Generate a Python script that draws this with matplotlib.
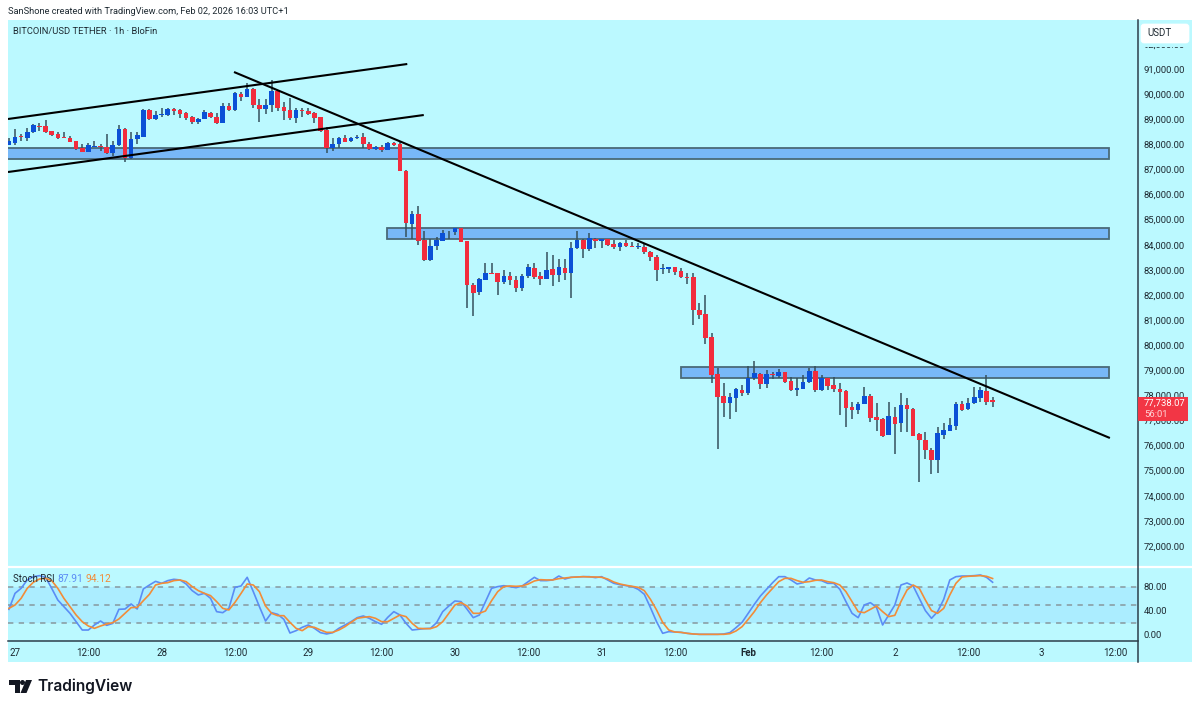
import matplotlib
matplotlib.use("Agg")
import matplotlib.pyplot as plt
from matplotlib.lines import Line2D
from matplotlib.patches import Rectangle, Polygon, FancyBboxPatch, Ellipse
from matplotlib.ticker import FuncFormatter

W, H = 1200, 709

# hourly candles, hour 0 = Jan 27 00:00
hours = list(range(-1, 161))
opens = [
    87970, 88040, 88330, 88270, 88480, 88740, 88720, 88520, 88410, 88290, 88250, 88130, 87840, 87710, 87890, 87920,
    87910, 87650, 87960, 88600, 87470, 88200, 88300, 89370, 89010, 89180, 89180, 89420, 89370, 89230, 89090, 88900,
    89020, 89260, 89070, 88850, 89530, 89370, 90000, 89900, 90190, 89570, 89410, 89570, 90120, 89490, 89350, 89060,
    89370, 89330, 89230, 89070, 88570, 87840, 88000, 88250, 88120, 88240, 88280, 88010, 87800, 87880, 87770, 88060,
    88010, 86950, 84840, 85220, 84190, 83390, 83950, 84150, 84490, 84490, 84650, 84150, 82390, 82100, 82590, 82870,
    82860, 82510, 82770, 82610, 82290, 82750, 83070, 82750, 82650, 83030, 82780, 83070, 82870, 83850, 84190, 83840,
    84230, 84160, 84210, 84030, 83920, 84080, 83960, 83920, 83920, 83710, 83510, 83020, 83030, 83100, 82940, 82710,
    82700, 81410, 81230, 80340, 78830, 77970, 77690, 77910, 78210, 78080, 78680, 78850, 78460, 78850, 78780, 78920,
    78560, 78210, 78270, 78520, 78960, 78210, 78680, 78410, 78250, 78160, 77520, 77420, 77670, 77970, 77120, 77040,
    76420, 77120, 76880, 77600, 77450, 76450, 76230, 75840, 75440, 76420, 76590, 76790, 77670, 77440, 77680, 77910,
    78170, 77830,
]
closes = [
    88130, 88290, 88290, 88500, 88760, 88700, 88500, 88380, 88270, 88270, 88100, 87800, 87710, 87960, 87920, 87890,
    87650, 87970, 88600, 87470, 88220, 88380, 89370, 89000, 89170, 89210, 89390, 89340, 89220, 89060, 88900, 89010,
    89270, 89070, 88850, 89510, 89370, 90040, 89900, 90190, 89570, 89410, 89570, 90120, 89460, 89340, 89060, 89370,
    89340, 89210, 89060, 88540, 87840, 88010, 88250, 88100, 88250, 88280, 88000, 87810, 87880, 87770, 88060, 87970,
    86950, 84880, 85220, 84160, 83390, 83960, 84190, 84480, 84520, 84650, 84120, 82380, 82070, 82620, 82860, 82850,
    82530, 82770, 82590, 82290, 82770, 83110, 82710, 82650, 83000, 82810, 83110, 82870, 83870, 84190, 83840, 84270,
    84160, 84210, 83970, 83920, 84080, 83960, 83920, 83950, 83710, 83500, 82990, 83060, 83100, 82910, 82700, 82690,
    81410, 81210, 80270, 78820, 77950, 77690, 77950, 78240, 78080, 78680, 78880, 78460, 78850, 78810, 78920, 78540,
    78210, 78280, 78530, 78970, 78210, 78680, 78380, 78240, 78150, 77510, 77420, 77670, 77970, 77110, 77020, 76380,
    77180, 76870, 77600, 77440, 76390, 76220, 75820, 75420, 76490, 76610, 76820, 77650, 77410, 77710, 77920, 78210,
    77750, 77738,
]
highs = [
    88240, 88600, 88410, 88640, 88810, 88840, 88960, 88540, 88490, 88500, 88330, 88130, 88010, 88040, 88120, 88010,
    88410, 88130, 88770, 88640, 88480, 88500, 89420, 89410, 89340, 89460, 89460, 89460, 89390, 89270, 89130, 89040,
    89370, 89300, 89230, 89630, 89660, 90100, 90100, 90430, 90230, 89790, 89790, 90560, 90160, 89670, 89860, 89430,
    89460, 89430, 89300, 89090, 88680, 88240, 88300, 88360, 88280, 88360, 88440, 88100, 87930, 87990, 88100, 88100,
    88100, 86980, 85340, 85550, 84550, 84230, 84320, 84590, 84560, 84670, 84650, 84150, 82460, 82670, 83260, 83270,
    82860, 82980, 82910, 82770, 82820, 83230, 83260, 82920, 83700, 83580, 83440, 83420, 84110, 84550, 84230, 84450,
    84280, 84230, 84230, 84190, 84120, 84190, 84090, 84080, 84030, 83750, 83590, 83220, 83130, 83110, 83070, 82860,
    82860, 81690, 82000, 80470, 79100, 78500, 78080, 78290, 78410, 79180, 79370, 78880, 79010, 78930, 79050, 78940,
    78740, 78680, 78810, 79080, 79170, 78810, 78700, 78720, 78480, 78210, 77750, 77720, 78340, 78050, 77680, 77080,
    77720, 77550, 78080, 77880, 77480, 76490, 76530, 75910, 76730, 76880, 77100, 77750, 77790, 77880, 78320, 78320,
    78810, 77930,
]
lows = [
    87960, 87970, 88130, 88130, 88460, 88530, 88460, 88340, 88230, 88240, 88080, 87770, 87710, 87690, 87880, 87750,
    87610, 87530, 87950, 87280, 87420, 88010, 88280, 88970, 88970, 89100, 89130, 89150, 89060, 88970, 88800, 88820,
    89010, 89050, 88820, 88840, 89340, 89340, 89740, 89900, 89430, 88880, 89220, 89270, 89310, 88970, 88970, 88850,
    89100, 89150, 88850, 88500, 87670, 87750, 87840, 88090, 88090, 88210, 87840, 87770, 87770, 87690, 87770, 87930,
    86950, 84320, 84230, 83990, 83360, 83360, 83790, 84150, 84230, 84390, 84120, 81460, 81160, 81980, 82590, 82830,
    82010, 82450, 82410, 82130, 82170, 82660, 82630, 82410, 82620, 82360, 82500, 82590, 81860, 83830, 83480, 83760,
    83880, 83880, 83950, 83840, 83760, 83920, 83910, 83830, 83620, 83360, 82570, 82830, 82860, 82810, 82670, 82450,
    80810, 81050, 80060, 78490, 75870, 77140, 77040, 77320, 77970, 78030, 78610, 78260, 78280, 78640, 78680, 78500,
    78180, 77970, 78240, 78500, 78120, 78180, 78210, 78150, 77200, 76740, 77040, 77260, 77660, 76940, 76580, 76350,
    76410, 75660, 76550, 76550, 76380, 74560, 75460, 74870, 74890, 76250, 76580, 76600, 77390, 77410, 77670, 77750,
    77600, 77520,
]

# stoch rsi
stoch_k = [
    42.8, 69.4, 77.8, 91.7, 97.2, 98.9, 96.1, 77.8, 58.3, 47.2, 36.1, 22.2, 8.3, 8.3, 16.7, 23.3, 16.1, 19.4, 42.8, 43.3,
    51.7, 43.3, 76.7, 83.3, 89.4, 86.1, 90.6, 92.8, 91.7, 85, 73.9, 66.7, 69.4, 61.1, 38.9, 37.2, 44.4, 79.4, 81.7, 96.1,
    72.2, 47.2, 23.3, 37.2, 34.4, 26.1, 3.3, 7.2, 12.8, 16.7, 11.1, 3.9, 1.7, 3.9, 11.1, 16.7, 22.2, 28.9, 31.7, 27.8,
    22.2, 17.8, 29.4, 38.9, 33.3, 19.4, 8.3, 9.4, 10.6, 11.1, 20.6, 38.9, 48.3, 56.7, 55.6, 42.8, 28.9, 33.3, 55.6, 77.8,
    80.6, 82.2, 80.6, 78.9, 81.7, 88.9, 96.1, 90.6, 90.6, 91.7, 98.3, 93.3, 96.1, 96.7, 97.2, 97.2, 95.6, 97.2, 91.7, 86.1,
    83.9, 82.2, 80.6, 76.1, 67.8, 45.6, 22.2, 2.8, 5.6, 5, 4.4, 2.8, 1.7, 1.1, 1.1, 1.1, 1.1, 1.7, 3.9, 12.2,
    21.1, 36.1, 51.1, 65, 76.1, 87.2, 97.2, 97.2, 91.7, 85, 87.2, 95, 91.7, 90.6, 86.1, 86.1, 76.1, 55.6, 36.1, 28.9,
    50, 53.9, 46.1, 16.7, 33.3, 50, 83.3, 86.7, 81.7, 61.1, 40.6, 27.8, 38.9, 59.4, 91.7, 97.2, 98.3, 98.3, 98.9, 100,
    96.1, 87.91,
]
stoch_d = [
    44.4, 50, 61.1, 77.8, 87.8, 93.3, 94.4, 90.6, 77.8, 61.1, 47.2, 33.3, 22.2, 15, 11.1, 15, 18.3, 20.6, 26.7, 36.1,
    45.6, 46.1, 57.2, 67.8, 83.3, 86.1, 87.2, 90.6, 91.7, 88.9, 80.6, 73.9, 69.4, 65.6, 55.6, 44.4, 41.7, 54.4, 69.4, 85,
    83.3, 72.2, 48.3, 36.1, 32.2, 32.2, 21.1, 11.1, 7.2, 13.9, 12.8, 8.3, 4.4, 4.4, 8.3, 13.9, 21.1, 27.8, 29.4, 30.6,
    27.8, 22.2, 22.2, 27.8, 33.3, 30.6, 19.4, 11.1, 10.6, 10.6, 13.9, 22.2, 36.1, 50, 53.9, 48.3, 36.1, 36.1, 40, 57.2,
    72.2, 80.6, 81.7, 81.1, 81.7, 85, 90, 92.2, 91.7, 91.7, 93.9, 95, 96.1, 96.7, 97.2, 96.7, 96.7, 96.1, 93.3, 88.3,
    85, 82.8, 81.1, 79.4, 73.9, 59.4, 41.7, 21.1, 8.3, 5, 4.4, 2.8, 1.7, 1.1, 1.1, 1.1, 1.1, 1.1, 2.2, 6.7,
    13.9, 26.1, 38.9, 53.9, 66.7, 77.8, 88.9, 94.4, 94.4, 90.6, 87.8, 88.9, 91.1, 91.7, 88.9, 87.2, 83.3, 72.2, 55.6, 38.9,
    37.2, 42.8, 48.3, 38.9, 30.6, 32.8, 55.6, 75, 83.3, 77.8, 58.3, 40.6, 36.1, 44.4, 66.7, 86.1, 96.7, 97.8, 98.3, 98.9,
    97.8, 94.12,
]

# drawings on the chart (hour, price)
zone_tops = [87870, 84660, 79120]
zone_bottoms = [87430, 84220, 78680]
zone_starts = [-3, 60.9, 109]
zone_end = 179.05
channel_upper = ([-1.15, 64.2], [89008, 91199])
channel_lower = ([-1.15, 66.9], [86896, 89167])
downtrend = ([35.84, 179.2], [90880, 76299])

price_ticks = list(range(72000, 93000, 1000))
stoch_ticks = [0, 40, 80]
time_ticks = list(range(0, 181, 12))
time_labels = ["27", "12:00", "28", "12:00", "29", "12:00", "30", "12:00", "31", "12:00", "Feb", "12:00", "2", "12:00", "3", "12:00"]

BG = "#BBF9FF"
BLUE = "#0B50D6"
RED = "#F22C3D"
WICK = "#35505C"
AXIS = "#2C3E4A"
TXT = "#1E2A32"

plt.rcParams["font.family"] = "Roboto"


def fx(x):
    return x / W


def fy(y):
    return 1 - y / H


fig = plt.figure(figsize=(12, 7.09), dpi=100, facecolor="white")

# chart background
fig.add_artist(Rectangle((fx(8), fy(662)), fx(1184), 642 / H, transform=fig.transFigure, fc=BG, ec="none", zorder=-1))

# main price pane
ax = fig.add_axes([fx(8), fy(566), fx(1130), 546 / H], facecolor="none")
ax.set_xlim(-1.15, 183.8)
ax.set_ylim(71200, 92952)
for s in ax.spines.values():
    s.set_visible(False)

for top, bot, st in zip(zone_tops, zone_bottoms, zone_starts):
    ax.add_patch(Rectangle((st, bot), zone_end - st, top - bot, fc="#78B8F8", ec="#4A6A78", lw=1.3, zorder=2))

colors = [BLUE if c >= o else RED for o, c in zip(opens, closes)]
ax.vlines(hours, lows, highs, color=WICK, lw=1.1, zorder=3)
ax.bar(hours, [abs(c - o) for o, c in zip(opens, closes)], bottom=[min(o, c) for o, c in zip(opens, closes)],
       width=0.75, color=colors, lw=0, zorder=4)

for xs, ys in (channel_upper, channel_lower, downtrend):
    ax.plot(xs, ys, color="black", lw=1.5, zorder=5, solid_capstyle="butt")

ax.yaxis.tick_right()
ax.set_yticks(price_ticks)
ax.yaxis.set_major_formatter(FuncFormatter(lambda v, p: f"{v:,.2f}"))
ax.tick_params(axis="y", length=0, pad=4, labelsize=6.8, labelcolor=TXT)
ax.set_xticks([])

# stoch pane
ax2 = fig.add_axes([fx(8), fy(641), fx(1130), 74 / H], facecolor="none")
ax2.set_xlim(-1.15, 183.8)
ax2.set_ylim(-10, 113.3)
for s in ax2.spines.values():
    s.set_visible(False)
ax2.axhspan(20, 80, color="#ABEDFF", lw=0, zorder=1)
for lev in (80, 50, 20):
    ax2.axhline(lev, color="#87989E", lw=1.1, ls=(0, (3.5, 3.5)), zorder=2)
ax2.plot(hours, stoch_k, color="#5B8DF5", lw=1.2, zorder=3)
ax2.plot(hours, stoch_d, color="#F28C38", lw=1.2, zorder=4)
ax2.yaxis.tick_right()
ax2.set_yticks(stoch_ticks)
ax2.yaxis.set_major_formatter(FuncFormatter(lambda v, p: f"{v:.2f}"))
ax2.tick_params(axis="y", length=0, pad=4, labelsize=6.8, labelcolor=TXT)
ax2.set_xticks(time_ticks)
ax2.set_xticklabels(time_labels)
ax2.tick_params(axis="x", length=0, pad=5, labelsize=7.0, labelcolor=TXT)
for lab, txt in zip(ax2.get_xticklabels(), time_labels):
    if txt == "Feb":
        lab.set_fontweight("bold")

# frame lines
fig.add_artist(Line2D([fx(8), fx(1192)], [fy(566.5)] * 2, color="white", lw=1.6, zorder=3))
fig.add_artist(Line2D([fx(1138)] * 2, [fy(20), fy(662)], color=AXIS, lw=1.1, zorder=3))
fig.add_artist(Line2D([fx(8), fx(1138)], [fy(641)] * 2, color=AXIS, lw=1.1, zorder=3))

# header and legends
fig.text(fx(8), fy(11), "SanShone created with TradingView.com, Feb 02, 2026 16:03 UTC+1", fontsize=6.65, color=TXT, va="center")
fig.text(fx(13), fy(32), "BITCOIN/USD TETHER · 1h · BloFin", fontsize=6.75, color=TXT, va="center")
fig.text(fx(13), fy(579), "Stoch RSI", fontsize=7.0, color=TXT, va="center", zorder=6)
fig.text(fx(57), fy(579), "87.91", fontsize=7.4, color="#5B8DF5", va="center", zorder=6)
fig.text(fx(85), fy(579), "94.12", fontsize=7.4, color="#F28C38", va="center", zorder=6)

# currency box and last price tag sit over the axis labels
fig.add_artist(Rectangle((fx(1140), fy(47)), fx(50), 5 / H, transform=fig.transFigure, fc=BG, ec="none", zorder=5))
fig.add_artist(FancyBboxPatch((1141, H - 43), 48, 19, boxstyle="round,pad=0,rounding_size=3", fc="white", ec="white", lw=0.5,
                              transform=matplotlib.transforms.IdentityTransform(), zorder=6))
fig.text(fx(1147), fy(33.5), "USDT", fontsize=7.0, color=TXT, va="center", zorder=7)
fig.add_artist(Rectangle((fx(1138), fy(421)), fx(50), 24 / H, transform=fig.transFigure, fc="#F23645", ec="none", zorder=6))
fig.text(fx(1144), fy(403), "77,738.07", fontsize=6.8, color="white", va="center", zorder=7)
fig.text(fx(1144), fy(414.5), "56:01", fontsize=6.8, color="#FFD5D8", va="center", zorder=7)

# logo
LOGO = "#131722"
fig.add_artist(Polygon([(fx(9), fy(680)), (fx(19.5), fy(680)), (fx(19.5), fy(693)), (fx(14.5), fy(693)), (fx(14.5), fy(685)), (fx(9), fy(685))],
                       closed=True, transform=fig.transFigure, fc=LOGO, ec="none", zorder=6))
fig.add_artist(Ellipse((fx(22.5), fy(682.5)), 5 / W, 5 / H, transform=fig.transFigure, fc=LOGO, ec="none", zorder=6))
fig.add_artist(Polygon([(fx(26), fy(680)), (fx(32), fy(680)), (fx(26.5), fy(693)), (fx(20.5), fy(693))],
                       closed=True, transform=fig.transFigure, fc=LOGO, ec="none", zorder=6))
fig.text(fx(37.5), fy(686), "TradingView", fontsize=11.2, fontweight="semibold", color=LOGO, va="center", family="Inter")

fig.savefig("out.png", dpi=100, facecolor="white")
